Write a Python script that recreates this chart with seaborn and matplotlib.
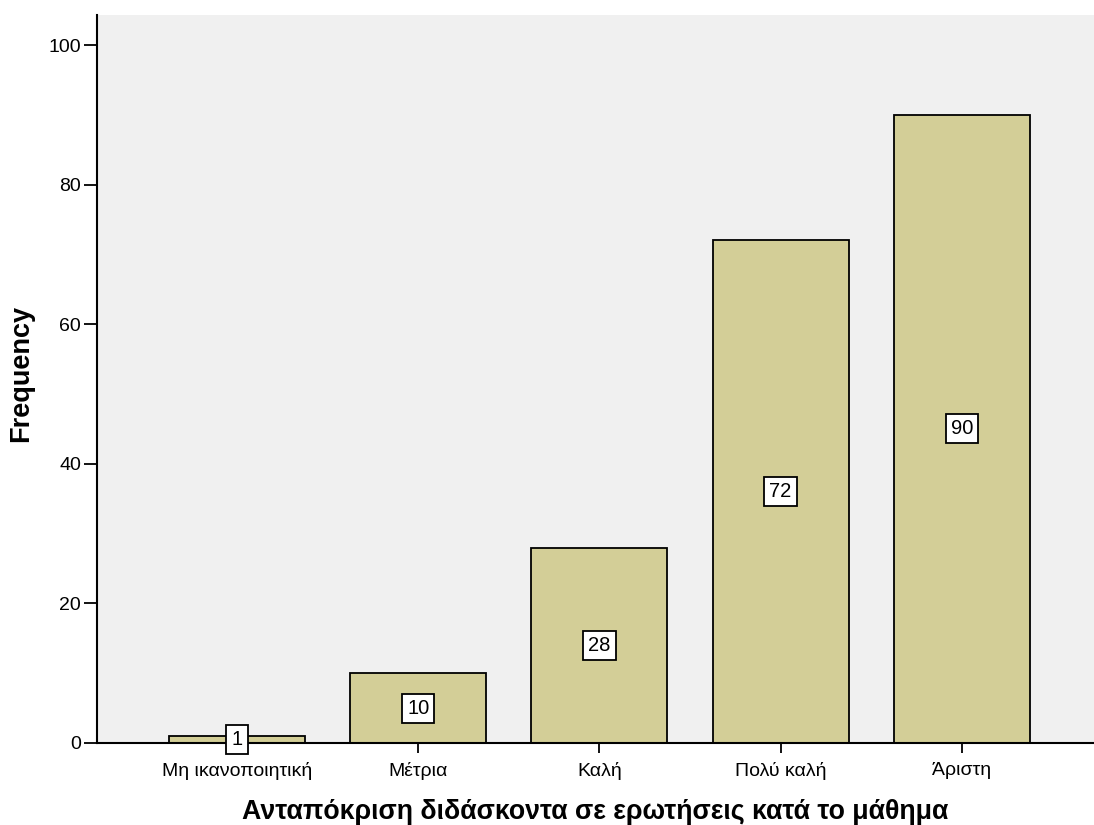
import pandas as pd
import matplotlib.pyplot as plt
import seaborn as sns

# data
categories = ['Μη ικανοποιητική', 'Μέτρια', 'Καλή', 'Πολύ καλή', 'Άριστη']
counts = [1, 10, 28, 72, 90]
yticks = [0, 20, 40, 60, 80, 100]

df = pd.DataFrame({'Response': categories, 'Frequency': counts})

sns.set_style('white')
plt.rcParams['font.family'] = ['Liberation Sans', 'DejaVu Sans']
plt.rcParams['text.color'] = 'black'
plt.rcParams['axes.labelcolor'] = 'black'
plt.rcParams['xtick.color'] = 'black'
plt.rcParams['ytick.color'] = 'black'

fig = plt.figure(figsize=(10.94, 8.25), dpi=100)
ax = fig.add_axes([0.0887, 0.0994, 0.9113, 0.8824])
ax.set_facecolor('#F0F0F0')

sns.barplot(x='Response', y='Frequency', data=df, color='#D3CE97',
            saturation=1, width=0.75, edgecolor='black', linewidth=1.3, ax=ax)

# value labels in white boxes at half bar height
for i, v in enumerate(counts):
    ax.text(i, v / 2, str(v), ha='center', va='center', fontsize=14.5, color='black',
            bbox=dict(boxstyle='square,pad=0.25', facecolor='white',
                      edgecolor='black', linewidth=1.3))

ax.set_xlim(-0.773, 4.73)
ax.set_ylim(0, 104.3)
ax.set_yticks(yticks)
ax.tick_params(axis='both', labelsize=14, direction='out', width=1.3,
               colors='black', bottom=True, left=True)
ax.tick_params(axis='y', length=9.5, pad=2)
ax.tick_params(axis='x', length=7.5, pad=6)

for s in ['top', 'right']:
    ax.spines[s].set_visible(False)
for s in ['left', 'bottom']:
    ax.spines[s].set_color('black')
    ax.spines[s].set_linewidth(1.5)

ax.set_xlabel('Ανταπόκριση διδάσκοντα σε ερωτήσεις κατά το μάθημα',
              fontsize=19.3, fontweight='bold', labelpad=14)
ax.set_ylabel('Frequency', fontsize=19.5, fontweight='bold')
ax.yaxis.set_label_coords(-0.063, 0.508)

plt.savefig('out.png', dpi=100)
